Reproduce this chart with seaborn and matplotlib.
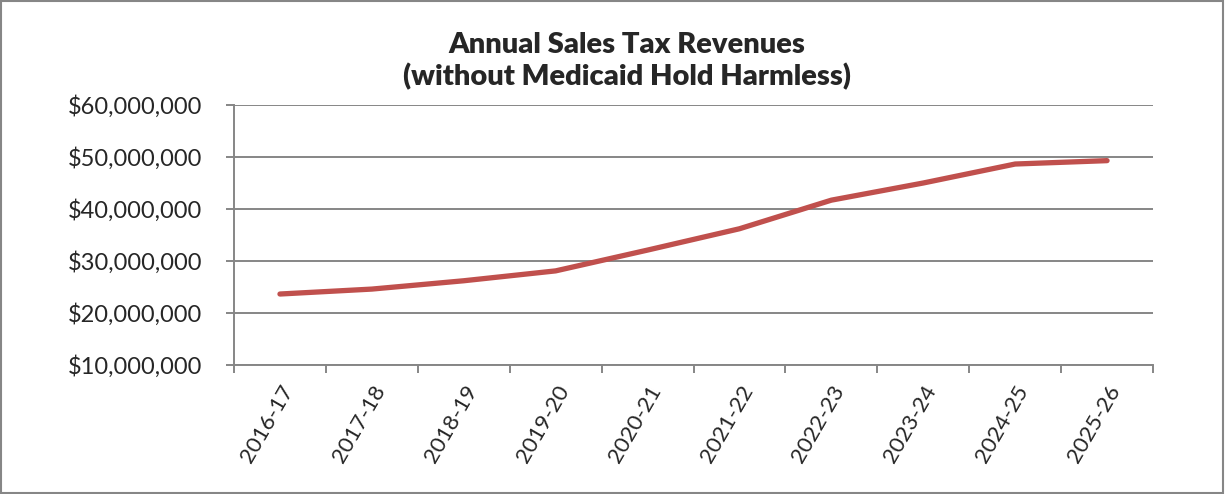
"""Annual sales tax revenues line chart (Excel look)."""
import matplotlib
matplotlib.use('Agg')
import matplotlib.pyplot as plt
from matplotlib.patches import Rectangle
from matplotlib.ticker import FuncFormatter, FixedLocator
import seaborn as sns
import pandas as pd

years = ['2016-17', '2017-18', '2018-19', '2019-20', '2020-21',
         '2021-22', '2022-23', '2023-24', '2024-25', '2025-26']
revenues = [23.65e6, 24.6e6, 26.2e6, 28.1e6, 32.1e6,
            36.2e6, 41.7e6, 45.0e6, 48.65e6, 49.3e6]
y_ticks = [10e6, 20e6, 30e6, 40e6, 50e6, 60e6]

df = pd.DataFrame({'year': years, 'revenue': revenues})

sns.set_style('white')
plt.rcParams['font.family'] = ['Lato', 'DejaVu Sans']
grey = '#868686'

fig = plt.figure(figsize=(12.25, 4.94), dpi=100)
ax = fig.add_axes([234 / 1225, 1 - 365 / 494, (1153 - 234) / 1225, 260 / 494])

sns.lineplot(data=df, x='year', y='revenue', ax=ax, sort=False,
             color='#C0504D', linewidth=3.8, solid_capstyle='round',
             solid_joinstyle='round')

ax.set_xlim(-0.5, len(years) - 0.5)
ax.set_ylim(y_ticks[0], y_ticks[-1])
ax.set_yticks(y_ticks)
ax.yaxis.set_major_formatter(FuncFormatter(lambda v, p: f'${v:,.0f}'))
ax.yaxis.grid(True, color=grey, linewidth=1.4)
ax.set_axisbelow(True)

# category labels at centres, tick marks between categories
ax.set_xticks(range(len(years)))
ax.set_xticklabels(years, rotation=60, ha='right', va='top',
                   rotation_mode='anchor')
ax.xaxis.set_minor_locator(FixedLocator([i - 0.5 for i in range(len(years) + 1)]))
ax.tick_params(axis='x', which='major', length=0, pad=12, labelsize=16)
ax.tick_params(axis='x', which='minor', length=6, width=1.4, color=grey,
               direction='out', bottom=True)
ax.tick_params(axis='y', length=6, width=1.4, color=grey, direction='out',
               left=True, labelsize=17, pad=17)

ax.set_xlabel('')
ax.set_ylabel('')
for side in ['top', 'right']:
    ax.spines[side].set_visible(False)
for side in ['left', 'bottom']:
    ax.spines[side].set_color(grey)
    ax.spines[side].set_linewidth(1.4)

fig.text(627 / 1225, 1 - 61 / 494,
         'Annual Sales Tax Revenues\n(without Medicaid Hold Harmless)',
         ha='center', va='center', fontsize=21, fontweight='heavy',
         linespacing=1.25)

# outer chart border
fig.patches.append(Rectangle((0.001, 0.002), 0.997, 0.995, transform=fig.transFigure,
                             fill=False, edgecolor=grey, linewidth=1.5))

fig.savefig('out.png', dpi=100, facecolor='white')
